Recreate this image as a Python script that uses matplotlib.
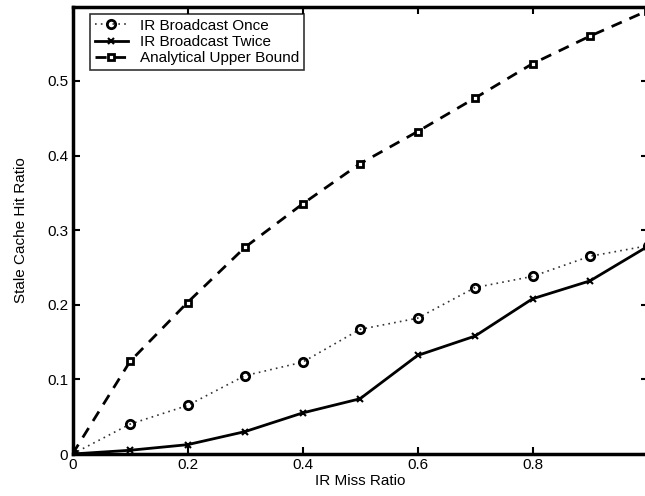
import matplotlib
matplotlib.use("Agg")
import matplotlib.pyplot as plt

x = [0, 0.1, 0.2, 0.3, 0.4, 0.5, 0.6, 0.7, 0.8, 0.9, 1.0]
once = [0, 0.040, 0.065, 0.105, 0.123, 0.167, 0.182, 0.223, 0.238, 0.265, 0.279]
twice = [0, 0.005, 0.0125, 0.030, 0.055, 0.074, 0.132, 0.158, 0.208, 0.232, 0.278]
bound = [0, 0.124, 0.203, 0.277, 0.335, 0.389, 0.432, 0.477, 0.523, 0.560, 0.594]

xticks = [0, 0.2, 0.4, 0.6, 0.8]
xticklabels = ["0", "0.2", "0.4", "0.6", "0.8"]
yticks = [0, 0.1, 0.2, 0.3, 0.4, 0.5]
yticklabels = ["0", "0.1", "0.2", "0.3", "0.4", "0.5"]

plt.rcParams['font.family'] = ['Liberation Sans', 'DejaVu Sans']

W, H = 645, 496
fig = plt.figure(figsize=(W/100, H/100), dpi=100)
ax = fig.add_axes([72.5/W, (H-454)/H, 575/W, 447/H])

ax.plot(x, once, linestyle=(0, (1, 2.5)), color='#333333', lw=1.2, marker='o', markersize=6,
        markerfacecolor='none', markeredgecolor='black', markeredgewidth=2,
        label='IR Broadcast Once')
ax.plot(x, twice, linestyle='-', color='black', lw=2, marker='x', markersize=4.5,
        markeredgewidth=1.5, label='IR Broadcast Twice')
ax.plot(x, bound, linestyle=(0, (4, 3)), color='black', lw=2, marker='s', markersize=5,
        markerfacecolor='white', markeredgewidth=2, label='Analytical Upper Bound')

ax.set_xlim(0, 1.0)
ax.set_ylim(0, 0.599)
ax.set_xticks(xticks)
ax.set_xticklabels(xticklabels)
ax.set_yticks(yticks)
ax.set_yticklabels(yticklabels)
ax.tick_params(direction='in', length=5, width=1.5, top=True, right=True,
               labelsize=11, pad=3)
for s in ax.spines.values():
    s.set_linewidth(2.5)
ax.spines['right'].set_visible(False)

ax.set_xlabel('IR Miss Ratio', fontsize=11, labelpad=1)
ax.set_ylabel('Stale Cache Hit Ratio', fontsize=11, labelpad=14)

leg = ax.legend(loc='upper left', bbox_to_anchor=(17.5/575, 1 - 7/447), fontsize=11,
                frameon=True, fancybox=False, edgecolor='black', handlelength=2.2,
                borderpad=0.3, labelspacing=0.15, handletextpad=0.8, borderaxespad=0)
leg.get_frame().set_linewidth(1.2)

fig.savefig('out.png', dpi=100)
